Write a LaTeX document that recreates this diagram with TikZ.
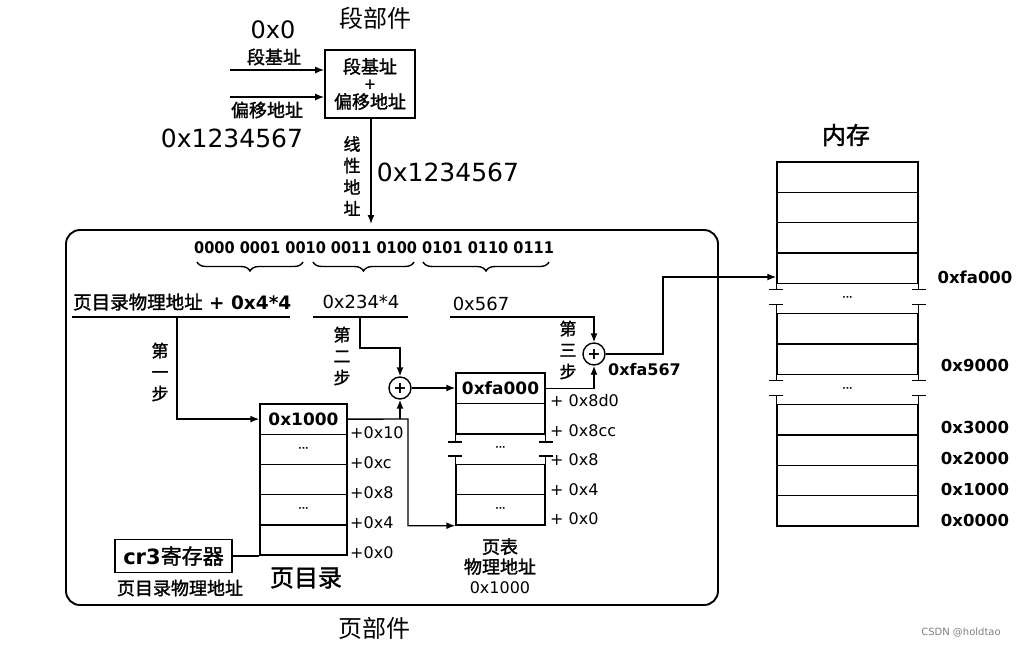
\documentclass[tikz,border=0pt]{standalone}
\usepackage{fontspec}
\usepackage{graphicx}
\setmainfont{DejaVu Sans}
\newfontfamily\cjk{Noto Sans CJK SC}[AutoFakeBold=1.5]
\usetikzlibrary{arrows.meta,decorations.pathreplacing}
\newcommand\fz[2]{\fontsize{#1}{#2}\selectfont}
\newcommand\C[1]{{\cjk #1}}
\begin{document}
\begin{tikzpicture}[x=1pt,y=-1pt,
  ln/.style={line width=1.4pt},
  arr/.style={line width=1.4pt,-{Latex[length=9pt,width=7pt]}},
  cell/.style={draw,line width=1.4pt,inner sep=0pt,font=\fz{17pt}{17pt}\bfseries},
  dcell/.style={cell,minimum width=87pt,minimum height=30.2pt},
  pcell/.style={cell,minimum width=89pt,minimum height=30.4pt},
  mcell/.style={cell,minimum width=141pt,minimum height=30.33pt},
  dots/.style={font=\fz{9pt}{9pt}\bfseries},
  off/.style={anchor=west,inner sep=0pt,font=\fz{16pt}{16pt}},
  madr/.style={inner sep=0pt,font=\fz{16.5pt}{16.5pt}\bfseries},
  vtext/.style={align=center,inner sep=0pt,font=\fz{17pt}{21.5pt}\bfseries\cjk},
  plus/.style={circle,draw,line width=1.4pt,minimum size=22pt,inner sep=0pt,font=\fz{16pt}{16pt}\bfseries},
  brc/.style={decorate,decoration={brace,mirror,amplitude=9pt},line width=1.4pt},
  lbl/.style={inner sep=0pt}
]
\useasboundingbox (0,0) rectangle (1034,649);

% ---------- segment part ----------
\node[lbl,font=\fz{24pt}{24pt}\cjk] (segt) at (375,18) {段部件};
\node[draw,line width=1.7pt,minimum width=90pt,minimum height=68pt,inner sep=0pt,align=center,font=\fz{18pt}{17.5pt}\bfseries\cjk] (seg) at (370,84) {段基址\\+\\偏移地址};
\node[lbl,font=\fz{24pt}{24pt}] (zero) at (273,30) {0x0};
\node[lbl,font=\fz{18pt}{18pt}\bfseries\cjk] (sbase) at (274,57) {段基址};
\node[lbl,font=\fz{18pt}{18pt}\bfseries\cjk] (soff) at (267,110) {偏移地址};
\node[lbl,font=\fz{25pt}{25pt}] (offv) at (232,138) {0x1234567};
\coordinate (in1) at (230,70);
\coordinate (in2) at (230,97);
\draw[arr] (in1) -- (in1 -| seg.west);
\draw[arr] (in2) -- (in2 -| seg.west);
\coordinate (lin) at (371,224);
\draw[arr] (seg.south -| lin) -- (lin);
\node[vtext] (linl) at (352,176) {线\\性\\地\\址};
\node[lbl,font=\fz{25pt}{25pt}] (linv) at (448,172) {0x1234567};

% ---------- page part frame ----------
\node[draw,line width=1.9pt,rounded corners=14pt,minimum width=652pt,minimum height=375pt,inner sep=0pt] (pg) at (392,417.5) {};
\node[lbl,font=\fz{24pt}{24pt}\cjk] (pgt) at (374,628) {页部件};

% binary address and braces
\node[lbl,font=\fz{16pt}{16pt}\bfseries] (bin) at (374,248) {\scalebox{0.91}[1]{0000 0001 0010 0011 0100 0101 0110 0111}};
\draw[brc] (197,262) -- (303,262);
\draw[brc] (313,262) -- (414,262);
\draw[brc] (423,262) -- (549,262);

\node[lbl,anchor=west,font=\fz{18.5pt}{18.5pt}\bfseries] (l1) at (73,302) {\C{页目录物理地址} + 0x4*4};
\node[lbl,font=\fz{18pt}{18pt}] (l2) at (361,302) {0x234*4};
\node[lbl,font=\fz{18pt}{18pt}] (l3) at (481,304) {0x567};
\draw[ln] (72,317) -- (290,317);
\draw[ln] (313,317) -- (408,317);
\draw[ln] (450,317) -- (595,317);
\coordinate (u1) at (177,317);
\coordinate (u2) at (360,317);
\coordinate (u3) at (594,317);
\coordinate (k2) at (360,348);

% page directory
\foreach \i/\t in {1/0x1000,3/,5/} {
  \node[dcell] (d\i) at (303.5,{404+15.1+30.2*(\i-1)}) {\t};
}
\foreach \i in {2,4} {
  \node[dcell,dots] (d\i) at (303.5,{404+15.1+30.2*(\i-1)}) {···};
}
\foreach \i/\t in {1/+0x10,2/+0xc,3/+0x8,4/+0x4,5/+0x0} {
  \node[off] (do\i) at (350,{433+30*(\i-1)}) {\t};
}
\node[lbl,font=\fz{24pt}{24pt}\bfseries\cjk] (dirt) at (306,578) {页目录};
\node[draw,line width=1.4pt,minimum width=117pt,minimum height=33pt,inner sep=0pt,font=\fz{21pt}{21pt}\bfseries] (cr3) at (173.5,556) {cr3\C{寄存器}};
\node[lbl,font=\fz{18pt}{18pt}\bfseries\cjk] (cr3l) at (180,588) {页目录物理地址};
\draw[ln] (cr3.east) -- (cr3.east -| d5.west);

% page table
\foreach \i/\t in {1/0xfa000,2/,4/} {
  \node[pcell] (p\i) at (500.5,{373+15.2+30.4*(\i-1)}) {\t};
}
\node[pcell,dots] (p5) at (500.5,{373+15.2+30.4*4}) {···};
\node[pcell,draw=none,dots] (p3) at (500.5,{373+15.2+30.4*2}) {···};
\foreach \s in {west,east} {
  \draw[ln] (p3.north \s) -- ++(0,9) ++(-7,0) -- ++(14,0);
  \draw[ln] (p3.south \s) -- ++(0,-9) ++(-7,0) -- ++(14,0);
}
\foreach \i/\t in {1/+ 0x8d0,2/+ 0x8cc,3/+ 0x8,4/+ 0x4,5/+ 0x0} {
  \node[off] (po\i) at (550,{401+29.5*(\i-1)}) {\t};
}
\node[lbl,align=center,font=\fz{18pt}{20pt}\bfseries] (ptl) at (500,566) {\C{页表}\\\C{物理地址}\\{\fz{16pt}{16pt}\mdseries 0x1000}};

% adders
\node[plus] (c2) at (400,388) {+};
\node[plus] (c3) at (594,354) {+};
\node[vtext] (s1) at (160,372) {第\\一\\步};
\node[vtext] (s2) at (342,356) {第\\二\\步};
\node[vtext] (s3) at (568,350) {第\\三\\步};
\node[lbl,anchor=west,font=\fz{16pt}{16pt}\bfseries] (fa) at (608,370) {0xfa567};

% connectors
\draw[arr] (u1) |- (d1.west);
\draw[arr] (u2) -- (k2) -| (c2.north);
\draw[arr] (c2.east) -- (c2.east -| p1.west);
\coordinate (k3) at (408,419);
\draw[arr] (d1.east) -- (k3) |- (p5.south west);
\draw[arr] (c2.south |- d1.east) -- (c2.south);
\draw[arr] (u3) -- (c3.north);
\draw[arr] (p1.east) -| (c3.south);
\coordinate (k4) at (663,277);

% memory
\node[lbl,font=\fz{24pt}{24pt}\bfseries\cjk] (memt) at (846,135) {内存};
\foreach \i in {0,1,2,3,5,6,8,9,10,11} {
  \node[mcell] (m\i) at (847.5,{162+15.165+30.33*\i}) {};
}
\foreach \i in {4,7} {
  \node[mcell,draw=none,dots] (m\i) at (847.5,{162+15.165+30.33*\i}) {···};
  \foreach \s in {west,east} {
    \draw[ln] (m\i.north \s) -- ++(0,7) ++(-7,0) -- ++(14,0);
    \draw[ln] (m\i.south \s) -- ++(0,-10) ++(-7,0) -- ++(14,0);
  }
}
\draw[arr] (c3.east) -| (k4) -- (k4 -| m3.west);
\node[madr] (a1) at (975,277) {0xfa000};
\node[madr] (a2) at (975,365) {0x9000};
\node[madr] (a3) at (975,427) {0x3000};
\node[madr] (a4) at (975,458) {0x2000};
\node[madr] (a5) at (975,489) {0x1000};
\node[madr] (a6) at (975,520) {0x0000};

\node[lbl,text=gray,font=\fz{10pt}{10pt}] (wm) at (961,633) {CSDN @holdtao};
\end{tikzpicture}
\end{document}
